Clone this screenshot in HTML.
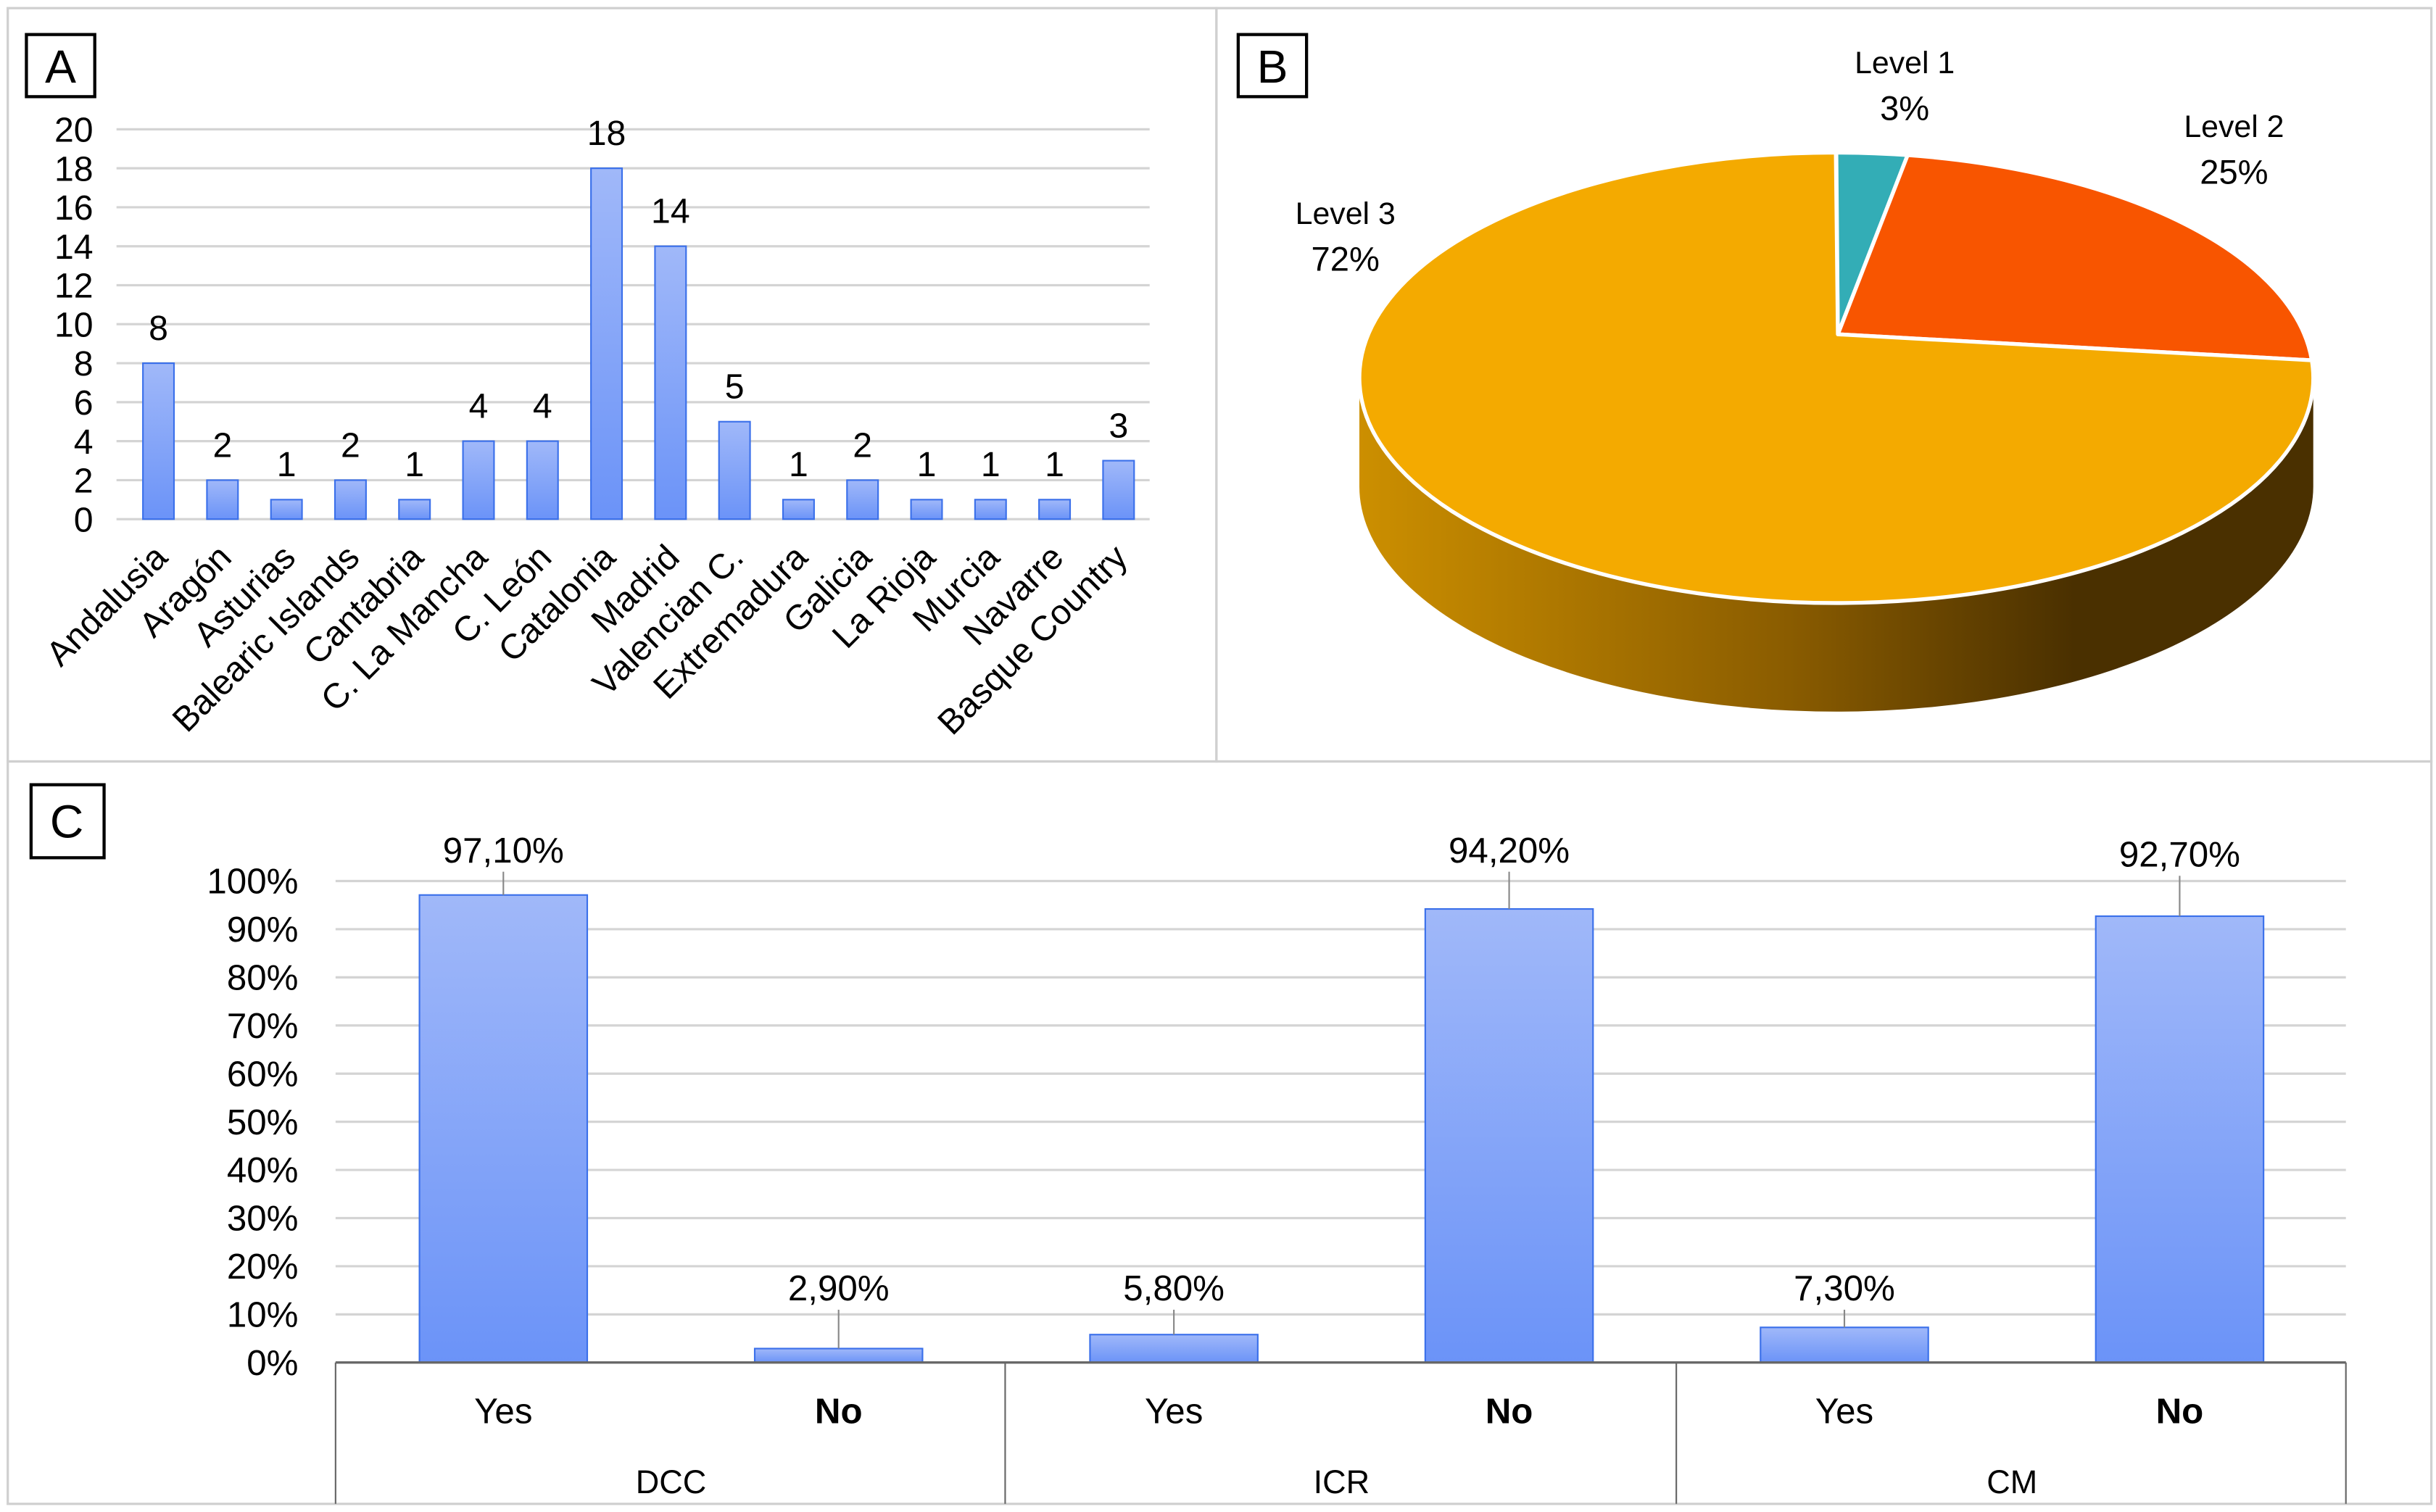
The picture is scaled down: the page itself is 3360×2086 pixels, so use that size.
<!DOCTYPE html>
<html><head><meta charset="utf-8"><style>
html,body{margin:0;padding:0;background:#fff}
svg{display:block}
text{font-family:"Liberation Sans",Arial,sans-serif;fill:#000}
</style></head><body>
<svg id="fig" width="3360" height="2086" viewBox="0 0 1568 973" xmlns="http://www.w3.org/2000/svg">
<defs>
<linearGradient id="barg" x1="0" y1="0" x2="0" y2="1"><stop offset="0" stop-color="#a0b8f9"/><stop offset="1" stop-color="#6b93f8"/></linearGradient>
<linearGradient id="sideg" x1="0" y1="0" x2="1" y2="0"><stop offset="0" stop-color="#cc8f00"/><stop offset="0.45" stop-color="#8a5c00"/><stop offset="0.75" stop-color="#4a3000"/><stop offset="1" stop-color="#4a3000"/></linearGradient>
</defs>
<rect x="0" y="0" width="1568" height="973" fill="#fff"/>
<rect x="5" y="5" width="778" height="485" fill="none" stroke="#d0d0d0" stroke-width="1.5"/>
<rect x="783" y="5" width="782" height="485" fill="none" stroke="#d0d0d0" stroke-width="1.5"/>
<rect x="5" y="490" width="1560" height="478" fill="none" stroke="#d0d0d0" stroke-width="1.5"/>
<g><rect x="17" y="22" width="44" height="40" fill="#fff" stroke="#000" stroke-width="2"/><text x="39" y="53" font-size="30" text-anchor="middle">A</text></g>
<g><rect x="797" y="22" width="44" height="40" fill="#fff" stroke="#000" stroke-width="2"/><text x="819" y="53" font-size="30" text-anchor="middle">B</text></g>
<g><rect x="20" y="505" width="47" height="47" fill="#fff" stroke="#000" stroke-width="2"/><text x="43" y="539" font-size="30" text-anchor="middle">C</text></g>
<g id="ga"></g><g id="gb"></g><g id="gc"></g>
</svg>
<script>
// ---- Chart A data
const regions = ["Andalusia","Aragón","Asturias","Balearic Islands","Cantabria","C. La Mancha","C. León","Catalonia","Madrid","Valencian C.","Extremadura","Galicia","La Rioja","Murcia","Navarre","Basque Country"];
const regionCounts = [8,2,1,2,1,4,4,18,14,5,1,2,1,1,1,3];
const aTicks = [0,2,4,6,8,10,12,14,16,18,20];
// ---- Chart B data
const levels = ["Level 1","Level 2","Level 3"];
const levelPct = [3,25,72];
// ---- Chart C data
const groups = ["DCC","ICR","CM"];
const answers = ["Yes","No","Yes","No","Yes","No"];
const cValues = [97.1,2.9,5.8,94.2,7.3,92.7];
const cTicks = [0,10,20,30,40,50,60,70,80,90,100];

const NS="http://www.w3.org/2000/svg";
function mk(parent,tag,attrs,txt){const e=document.createElementNS(NS,tag);for(const k in attrs)e.setAttribute(k,attrs[k]);if(txt!==undefined)e.textContent=txt;parent.appendChild(e);return e;}

// Chart A
(function(){
 const g=document.getElementById('ga');
 const y=v=>334-(v/20)*251;
 const x=i=>102+i*41.2;
 aTicks.forEach(t=>{
  const l=mk(g,'line',{x1:75,x2:740,y1:y(t),y2:y(t),stroke:'#d4d4d4','stroke-width':1.5});
  
  
  const tx=mk(g,'text',{x:60,y:y(t)+8,'font-size':22.5,'text-anchor':'end'},String(t));
  
  
 });
 regionCounts.forEach((v,i)=>{
  const b=mk(g,'rect',{x:x(i)-10,y:y(v),width:20,height:334-y(v),fill:'url(#barg)',stroke:'#3b70ea','stroke-width':1});
  
  
  const t=mk(g,'text',{x:x(i),y:y(v)-15,'font-size':22.5,'text-anchor':'middle'},String(v));
  
  
  const c=mk(g,'text',{x:0,y:0,'font-size':22.5,'text-anchor':'end',transform:`translate(${x(i)+7},${360}) rotate(-45)`},regions[i]);
  
  
 });
})();

// Chart B
(function(){
 const g=document.getElementById('gb');
 const cx=1182,cy=243,rx=307,ry=145,ax=1183,ay=215,d=70;
 const rot=-0.27;
 const P=a=>{const b=a===0?0:a+rot*Math.min(1,a/1.8)*Math.max(0,1-(a-1.8)/4.5);return [cx+rx*Math.sin(b),cy-ry*Math.cos(b)];};
 const side=mk(g,'path',{d:`M${cx-rx},${cy} L${cx-rx},${cy+d} A${rx},${ry} 0 0 0 ${cx+rx},${cy+d} L${cx+rx},${cy} A${rx},${ry} 0 0 1 ${cx-rx},${cy} Z`,fill:'url(#sideg)'});
 
 
 const cols=['#33adb6','#f85500','#f4aa00'];
 const total=levelPct.reduce((a,b)=>a+b,0);
 let acc=0;
 const lpos=[[1226,40],[1438,81],[866,137]];
 levelPct.forEach((v,i)=>{
  const a0=acc/total*2*Math.PI; acc+=v; const a1=acc/total*2*Math.PI;
  const p0=P(a0),p1=P(a1);
  const large=(a1-a0)>Math.PI?1:0;
  const s=mk(g,'path',{d:`M${ax},${ay} L${p0[0]},${p0[1]} A${rx},${ry} 0 ${large} 1 ${p1[0]},${p1[1]} Z`,fill:cols[i],stroke:'#fff','stroke-width':2.5,'stroke-linejoin':'round'});
  
  
  const t1=mk(g,'text',{x:lpos[i][0],y:lpos[i][1]+7,'font-size':20,'text-anchor':'middle',fill:'#222'},levels[i]);
  
  
  const t2=mk(g,'text',{x:lpos[i][0],y:lpos[i][1]+37,'font-size':22,'text-anchor':'middle',fill:'#222'},v+'%');
  
  
 });
})();

// Chart C
(function(){
 const g=document.getElementById('gc');
 const y=v=>877-(v/100)*310;
 const x=i=>324+i*215.8;
 cTicks.forEach(t=>{
  const l=mk(g,'line',{x1:216,x2:1510,y1:y(t),y2:y(t),stroke:'#d4d4d4','stroke-width':1.5});
  
  
  const tx=mk(g,'text',{x:192,y:y(t)+8,'font-size':23,'text-anchor':'end'},t+'%');
  
  
 });
 cValues.forEach((v,i)=>{
  const b=mk(g,'rect',{x:x(i)-54,y:y(v),width:108,height:877-y(v),fill:'url(#barg)',stroke:'#3b70ea','stroke-width':1});
  
  
  const ly=v<50?Math.min(839,y(v)-14):Math.max(y(v)-30,557);
  const ln=mk(g,'line',{x1:x(i),x2:x(i),y1:ly+4,y2:y(v),stroke:'#888','stroke-width':1});
  
  
  const t=mk(g,'text',{x:x(i),y:ly-2,'font-size':23,'text-anchor':'middle'},v.toFixed(2).replace('.',',')+'%');
  
  
  const a=mk(g,'text',{x:x(i),y:916,'font-size':23,'text-anchor':'middle','font-weight':answers[i]==='No'?'bold':'normal'},answers[i]);
  
  
 });
 const ax=mk(g,'line',{x1:216,x2:1510,y1:877,y2:877,stroke:'#666','stroke-width':1.5});
 
 
 [216,647,1079,1510].forEach(xx=>{
  const l=mk(g,'line',{x1:xx,x2:xx,y1:877,y2:968,stroke:'#666','stroke-width':1});
  
  
 });
 groups.forEach((gr,j)=>{
  const t=mk(g,'text',{x:(x(2*j)+x(2*j+1))/2,y:961,'font-size':21,'text-anchor':'middle'},gr);
  
  
 });
})();
</script>
</body></html>
